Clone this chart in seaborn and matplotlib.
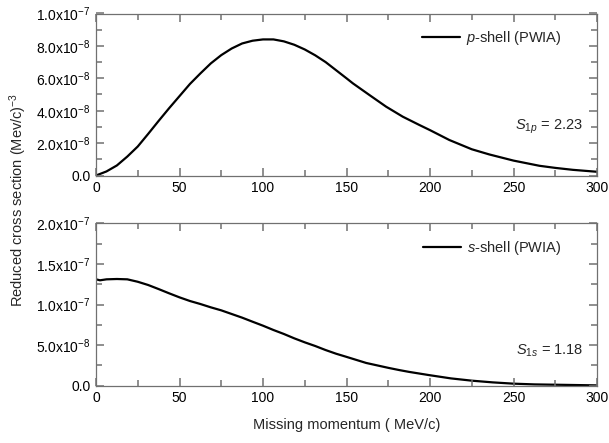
import matplotlib
matplotlib.use("Agg")
import matplotlib.pyplot as plt
import seaborn as sns
import pandas as pd
import numpy as np
from matplotlib.ticker import MultipleLocator, FuncFormatter

# ---- data ----
p_momentum = [0, 6.25, 12.5, 18.75, 25, 31.25, 37.5, 43.75, 50, 56.25, 62.5, 68.75, 75,
              81.25, 87.5, 93.75, 100, 106.25, 112.5, 118.75, 125, 131.25, 137.5, 143.75,
              150, 153.8, 163.7, 173.7, 183.7, 193.6, 200, 211.6, 225, 235.5, 250, 265.5,
              275, 285.5, 300]
p_shell = [0.0, 0.25, 0.62, 1.17, 1.79, 2.57, 3.37, 4.15, 4.9, 5.65, 6.3, 6.92, 7.43,
           7.84, 8.15, 8.32, 8.4, 8.4, 8.28, 8.07, 7.78, 7.42, 7.0, 6.5,
           6.0, 5.69, 4.97, 4.25, 3.63, 3.12, 2.8, 2.19, 1.62, 1.3, 0.92, 0.6,
           0.47, 0.35, 0.23]  # x1e-8

s_momentum = [0, 2.4, 6.3, 12.5, 18.75, 25, 31.25, 37.5, 43.75, 50, 56.25, 62.5, 68.75,
              75, 81.25, 87.5, 93.75, 100, 106.25, 112.5, 118.75, 125, 131.25, 137.5,
              143.75, 150, 161.8, 175, 181.7, 187.5, 199.6, 212.5, 225, 237.5, 250, 262.5,
              275, 287.5, 300]
s_shell = [13.1, 12.98, 13.1, 13.14, 13.1, 12.8, 12.4, 11.9, 11.38, 10.88, 10.43, 10.06, 9.65,
           9.28, 8.83, 8.38, 7.88, 7.39, 6.86, 6.37, 5.83, 5.34, 4.89, 4.39,
           3.94, 3.55, 2.8, 2.2, 1.92, 1.7, 1.3, 0.9, 0.62, 0.41, 0.25, 0.16,
           0.12, 0.08, 0.04]  # x1e-8

p_label = "$p$-shell (PWIA)"
s_label = "$s$-shell (PWIA)"
p_note = "$S_{1p}$ = 2.23"
s_note = "$S_{1s}$ = 1.18"
x_label = "Missing momentum ( MeV/c)"
y_label = "Reduced cross section (Mev/c)$^{-3}$"

df_p = pd.DataFrame({"x": p_momentum, "y": np.array(p_shell) * 1e-8})
df_s = pd.DataFrame({"x": s_momentum, "y": np.array(s_shell) * 1e-8})

sns.set_style("ticks")
plt.rcParams["font.family"] = ["Liberation Sans", "DejaVu Sans"]
plt.rcParams["mathtext.fontset"] = "custom"
plt.rcParams["mathtext.rm"] = "Liberation Sans"
plt.rcParams["mathtext.it"] = "Liberation Sans:italic"
plt.rcParams["mathtext.bf"] = "Liberation Sans:bold"
plt.rcParams["axes.axisbelow"] = False
plt.rcParams["xtick.direction"] = "in"
plt.rcParams["ytick.direction"] = "in"
plt.rcParams["xtick.top"] = True
plt.rcParams["ytick.right"] = True

fig = plt.figure(figsize=(6.09, 4.43), dpi=100)
L, R = 96 / 609, 597 / 609
ax1 = fig.add_axes([L, 1 - 175.5 / 443, R - L, (175.5 - 13.5) / 443])
ax2 = fig.add_axes([L, 1 - 385.7 / 443, R - L, (385.7 - 223.3) / 443])

spine_col = "#707070"


def fmt(v, pos):
    if abs(v) < 1e-20:
        return "0.0"
    e = int(np.floor(np.log10(abs(v)) + 1e-9))
    m = v / 10 ** e
    return f"{m:.1f}x10$^{{{e}}}$"


for ax, df, lab, note, ymax, ymaj, ymin, ny in [
    (ax1, df_p, p_label, p_note, 1e-7, 2e-8, 1e-8, 0.30),
    (ax2, df_s, s_label, s_note, 2e-7, 5e-8, 2.5e-8, 0.214),
]:
    sns.lineplot(data=df, x="x", y="y", ax=ax, color="black", linewidth=1.6, label=lab)
    ax.set_xlim(0, 300)
    ax.set_ylim(0, ymax)
    ax.xaxis.set_major_locator(MultipleLocator(50))
    ax.xaxis.set_minor_locator(MultipleLocator(25))
    ax.yaxis.set_major_locator(MultipleLocator(ymaj))
    ax.yaxis.set_minor_locator(MultipleLocator(ymin))
    ax.yaxis.set_major_formatter(FuncFormatter(fmt))
    ax.tick_params(which="both", direction="in", top=True, right=True, bottom=True, left=True,
                   color=spine_col, labelsize=10, width=1.1, labelcolor="black")
    ax.tick_params(which="major", length=6, pad=4)
    ax.tick_params(which="minor", length=4)
    for s in ax.spines.values():
        s.set_color(spine_col)
        s.set_linewidth(0.9)
    ax.set_xlabel("")
    ax.set_ylabel("")
    ax.legend(loc="upper right", bbox_to_anchor=(0.955, 0.985), frameon=False,
              fontsize=10.5, handlelength=2.6, handletextpad=0.4)
    ax.text(0.972, ny, note, transform=ax.transAxes, ha="right", va="center", fontsize=10.5)

fig.text((96 + 597) / 2 / 609, 1 - 425 / 443, x_label, ha="center", va="center", fontsize=10.5)
fig.text(18 / 609, 1 - 200 / 443, y_label, ha="center", va="center", rotation=90, fontsize=10.5)

fig.savefig("out.png", dpi=100)
